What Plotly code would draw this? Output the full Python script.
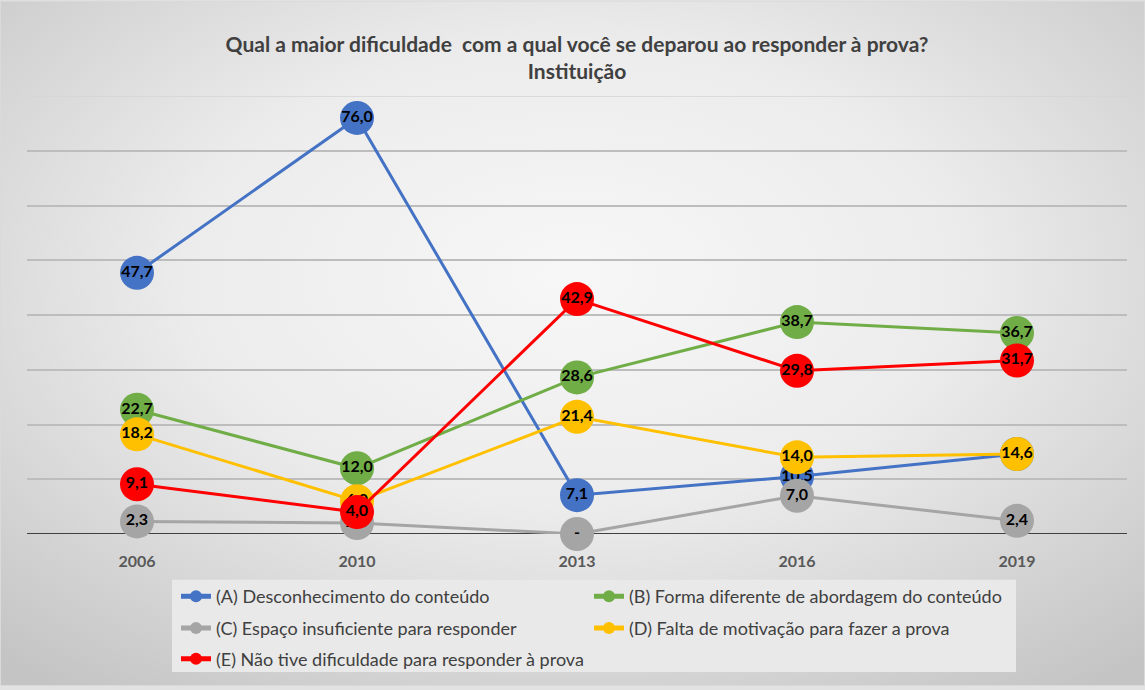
import base64
import plotly.graph_objects as go

years = ["2006", "2010", "2013", "2016", "2019"]
names = [
    "(A) Desconhecimento do conteúdo",
    "(B) Forma diferente de abordagem do conteúdo",
    "(C) Espaço insuficiente para responder",
    "(D) Falta de motivação para fazer a prova",
    "(E) Não tive dificuldade para responder à prova",
]
serie_a = [47.7, 76.0, 7.1, 10.5, 14.6]
serie_b = [22.7, 12.0, 28.6, 38.7, 36.7]
serie_c = [2.3, 2.0, 0.0, 7.0, 2.4]
serie_d = [18.2, 6.0, 21.4, 14.0, 14.6]
serie_e = [9.1, 4.0, 42.9, 29.8, 31.7]
colors = ["#4472C4", "#70AD47", "#A5A5A5", "#FFC000", "#FF0000"]

W, H = 1145, 690
ML, MR, MT, MB = 27, 18, 96, 153
PW, PH = W - ML - MR, H - MT - MB

def fmt(v):
    return "-" if v == 0 else f"{v:.1f}".replace(".", ",")

fig = go.Figure()
legends = ["legend", "legend", "legend2", "legend2", "legend3"]
for name, vals, col, lg in zip(names, [serie_a, serie_b, serie_c, serie_d, serie_e], colors, legends):
    fig.add_trace(go.Scatter(
        x=years, y=vals, name=name, mode="lines+markers+text",
        line=dict(color=col, width=3),
        marker=dict(color=col, size=34, line=dict(width=0)),
        text=[fmt(v) for v in vals], textposition="middle center",
        textfont=dict(family="Lato", size=16, color="#000000", weight="bold"),
        cliponaxis=False, legend=lg, hoverinfo="skip",
    ))

svg = f'''<svg xmlns="http://www.w3.org/2000/svg" width="{W}" height="{H}">
<defs><radialGradient id="g" cx="50%" cy="40%" r="75%">
<stop offset="0%" stop-color="#f7f7f7"/>
<stop offset="45%" stop-color="#ececec"/>
<stop offset="100%" stop-color="#c4c4c4"/>
</radialGradient></defs>
<rect width="{W}" height="{H}" fill="url(#g)"/>
<rect x="0.5" y="0.5" width="{W-1}" height="{H-1}" fill="none" stroke="#dadada"/>
</svg>'''
src = "data:image/svg+xml;base64," + base64.b64encode(svg.encode()).decode()

def px_x(p):
    return (p - ML) / PW

def px_y(p):
    return (H - MB - p) / PH

fig.add_layout_image(dict(
    source=src, xref="paper", yref="paper",
    x=px_x(0), y=px_y(0), sizex=W / PW, sizey=H / PH,
    xanchor="left", yanchor="top", sizing="stretch", layer="below",
))

# legend background box
fig.add_shape(type="rect", xref="paper", yref="paper",
              x0=px_x(172), x1=px_x(1016), y0=px_y(676), y1=px_y(583),
              fillcolor="#e9e9e9", line=dict(width=0), layer="below")

legfont = dict(family="Lato", size=18, color="#404040")
common = dict(orientation="h", xanchor="left", yanchor="middle", font=legfont,
              bgcolor="rgba(0,0,0,0)", entrywidth=368, entrywidthmode="pixels",
              itemsizing="constant",
              itemclick=False, itemdoubleclick=False)

fig.update_layout(
    width=W, height=H,
    margin=dict(l=ML, r=MR, t=MT, b=MB),
    paper_bgcolor="#e2e2e2", plot_bgcolor="rgba(0,0,0,0)",
    title=dict(text="Qual a maior dificuldade  com a qual você se deparou ao responder à prova?<br>Instituição",
               x=0.5, xanchor="center", xref="paper", yref="container", y=1 - 52 / H, yanchor="top",
               font=dict(family="Lato", size=21, color="#404040", weight="bold")),
    showlegend=True,
    legend=dict(x=px_x(176), y=px_y(600), **common),
    legend2=dict(x=px_x(176), y=px_y(632), **common),
    legend3=dict(x=px_x(176), y=px_y(663), **common),
    xaxis=dict(type="category", showgrid=False, showline=False, zeroline=False,
               ticks="", ticklabelstandoff=16,
               tickfont=dict(family="Lato", size=16, color="#595959", weight="bold"),
               range=[-0.5, 4.5]),
    yaxis=dict(range=[0, 80], dtick=10, showticklabels=False, showgrid=True,
               gridcolor="#bdbdbd", gridwidth=1.5, zeroline=False, showline=False),
    hovermode=False,
)
fig.add_shape(type="line", xref="paper", yref="y", x0=0, x1=1, y0=80, y1=80,
              line=dict(color="#d4d4d4", width=1.5), layer="below")
fig.add_shape(type="line", xref="paper", yref="y", x0=0, x1=1, y0=0, y1=0,
              line=dict(color="#404040", width=2), layer="below")

fig.write_html("out.html", config={"displayModeBar": False},
               post_script="document.body.style.margin='0';")
